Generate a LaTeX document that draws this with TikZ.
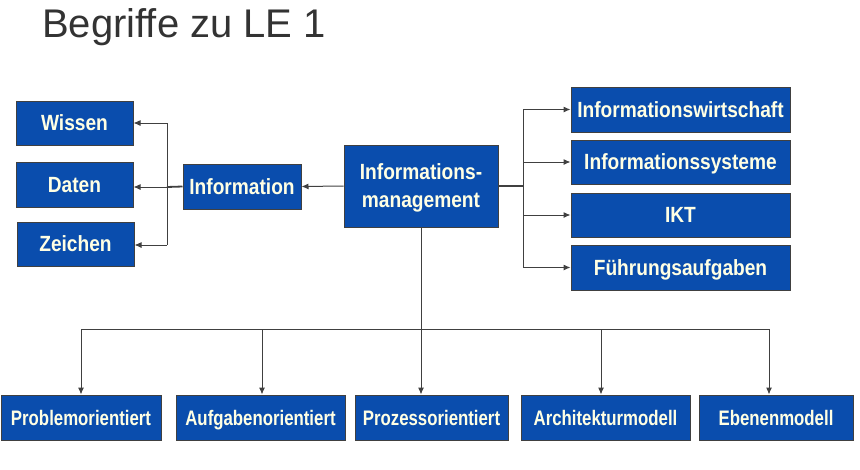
\documentclass[tikz,border=0pt]{standalone}
\usepackage{fontspec}
\usepackage{tikz}
\usetikzlibrary{arrows.meta}
\setmainfont{Liberation Sans}
\newfontfamily\boxfont[FakeStretch=0.87]{Liberation Sans}
\newfontfamily\lowboxfont[FakeStretch=0.8]{Liberation Sans}
\definecolor{boxblue}{HTML}{0A4DAD}
\definecolor{boxtext}{HTML}{FFFFE4}
\definecolor{linegray}{HTML}{404040}
\definecolor{titlegray}{HTML}{333333}

\tikzset{
  box/.style={draw=linegray, line width=1pt, fill=boxblue, text=boxtext,
    font=\boxfont\bfseries\fontsize{22}{28}\selectfont,
    inner sep=0pt, minimum height=45pt, align=center},
  onebox/.style={box, text height=15.8pt, text depth=0pt},
  lowbox/.style={box, font=\lowboxfont\bfseries\fontsize{21}{26}\selectfont,
    text height=15pt, text depth=0pt},
  arr/.style={-{Latex[length=7pt,width=6pt]}, draw=linegray, line width=1pt},
  stub/.style={draw=linegray, line width=1.8pt}
}

\begin{document}
\begin{tikzpicture}[x=1pt, y=-1pt]
			\useasboundingbox (0,0) rectangle (860,469);
			\node[anchor=base west, text=titlegray, font=\fontsize{40}{44}\selectfont, inner sep=0pt] (title) at (42,37) {Begriffe zu LE 1};
			
			\node[onebox, minimum width=117pt, minimum height=44pt] (wissen) at (74.5,123) {Wissen};
			\node[onebox, minimum width=117pt] (daten) at (74.5,184.5) {Daten};
			\node[onebox, minimum width=117pt, minimum height=44pt] (zeichen) at (75.5,244) {Zeichen};
			\node[onebox, minimum width=118pt] (info) at (242,186.5) {Information};
			\node[box, minimum width=154pt, minimum height=82pt, text height=43.8pt, text depth=0pt] (im) at (421,186) {Informations-\\management};
			
			\node[onebox, minimum width=219pt] (iw) at (680.5,109.5) {Informationswirtschaft};
			\node[onebox, minimum width=219pt, minimum height=44pt] (is) at (680.5,162) {Informationssysteme};
			\node[onebox, minimum width=219pt, minimum height=44pt] (ikt) at (680.5,215) {IKT};
			\node[onebox, minimum width=219pt] (fa) at (680.5,267.5) {Führungsaufgaben};
			
			\node[lowbox, minimum width=160pt] (prob) at (81,417.5) {Problemorientiert};
			\node[lowbox, minimum width=169pt] (aufg) at (260.5,417.5) {Aufgabenorientiert};
			\node[lowbox, minimum width=153pt] (proz) at (431.5,417.5) {Prozessorientiert};
			\node[lowbox, minimum width=169pt] (arch) at (605.5,417.5) {Architekturmodell};
			\node[lowbox, minimum width=154pt] (eben) at (776,417.5) {Ebenenmodell};
			
			\coordinate (lf) at (167,187);
			\coordinate (rf) at (523,186);
			\coordinate (b1) at (81,329);
			\coordinate (b2) at (262,329);
			\coordinate (b4) at (601,329);
			\coordinate (b5) at (769,329);
			
			% links
			\draw[arr] (im.west) -- (info.east);
			\draw[stub] (info.west) -- (lf);
			\draw[draw=linegray, line width=1pt] (lf |- wissen.east) -- (167,245);
			\draw[arr] (lf |- wissen.east) -- (wissen.east);
			\draw[arr] (lf) -- (lf -| daten.east);
			\draw[arr] (167,245) -- (zeichen.east |- 0,245);
			
			% rechts
			\draw[stub] (im.east) -- (rf);
			\draw[draw=linegray, line width=1pt] (rf |- iw.west) -- (rf |- fa.west);
			\draw[arr] (rf |- iw.west) -- (iw.west);
			\draw[arr] (rf |- is.west) -- (is.west);
			\draw[arr] (rf |- ikt.west) -- (ikt.west);
			\draw[arr] (rf |- fa.west) -- (fa.west);
			
			% unten
			\draw[arr] (im.south) -- (im.south |- proz.north);
			\draw[draw=linegray, line width=1pt] (b1) -- (b5);
			\draw[arr] (b1) -- (b1 |- prob.north);
			\draw[arr] (b2) -- (b2 |- aufg.north);
			\draw[arr] (b4) -- (b4 |- arch.north);
			\draw[arr] (b5) -- (b5 |- eben.north);
		\end{tikzpicture}
\end{document}
